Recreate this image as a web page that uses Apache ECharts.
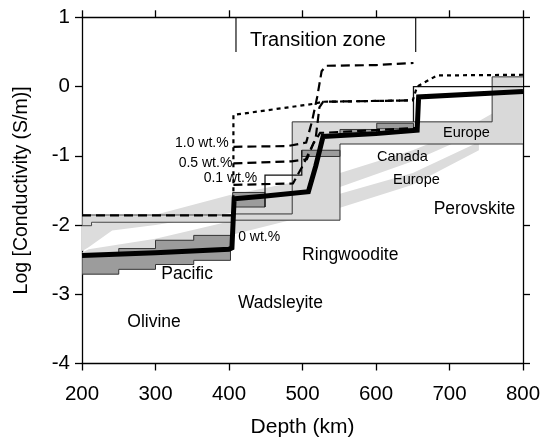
<!DOCTYPE html>
<html><head><meta charset="utf-8">
<script src="https://cdn.jsdelivr.net/npm/echarts@6/dist/echarts.min.js"></script>
<style>html,body{margin:0;padding:0;background:#fff}#c{width:541px;height:442px}</style>
</head><body><div id="c"></div>
<script>
// ---- data (depth km, log conductivity) ----
const xTicks = [200, 300, 400, 500, 600, 700, 800];
const yTicks = [-4, -3, -2, -1, 0, 1];

// water-content model profiles
const dry0 = [[200,-2.44],[300,-2.40],[400,-2.35],[404,-2.33],[407,-1.62],[450,-1.58],[508,-1.52],[518,-1.15],[528,-0.72],[600,-0.68],[656,-0.63],[658,-0.15],[800,-0.07]];
const olivineWet = [[200,-1.86],[406,-1.86]];
const wet01 = [[406,-1.42],[487,-1.40],[500,-1.15],[515,-0.82],[524,-0.67],[654,-0.60]];
const wet05 = [[406,-1.11],[485,-1.08],[506,-1.05],[518,-0.74],[523,-0.30],[528,-0.22],[647,-0.20]];
const wet10 = [[406,-0.87],[480,-0.86],[505,-0.81],[513,-0.50],[520,-0.15],[526,0.22],[532,0.30],[600,0.31],[651,0.34]];
const wetMax = [[406,-1.86],[406,-0.41],[515,-0.25],[528,-0.22],[650,-0.20],[656,0.0],[683,0.16],[800,0.17]];

// geophysical profiles
const stepProfileA = [[449,-1.74],[449,-1.28],[499,-1.28],[499,-0.92]];
const stepProfileB = [[651,-0.51],[651,0.0],[800,0.0]];
const olivineBox = [[200,-1.855],[405,-1.855],[405,-1.96],[213,-1.96],[213,-2.01],[200,-2.01]];
const tzBox = [[405,-1.52],[486,-1.52],[486,-0.51],[758,-0.51],[758,0.14],[800,0.14],[800,-0.83],[551,-0.83],[551,-1.93],[405,-1.93]];
const tzEdgeUpper = [[405,-1.84],[486,-1.84],[486,-0.51],[758,-0.51],[758,0.14],[800,0.14]];
const tzEdgeLower = [[405,-1.93],[551,-1.93],[551,-0.83],[800,-0.83]];
const pacific = [[200,-2.42],[250,-2.42],[250,-2.34],[300,-2.34],[300,-2.22],[352,-2.22],[352,-2.15],[402,-2.15],[402,-2.51],[352,-2.51],[352,-2.57],[300,-2.57],[300,-2.64],[250,-2.64],[250,-2.71],[200,-2.71]];
const pacificTZ1 = [[405,-1.53],[449,-1.53],[449,-1.74],[405,-1.74]];
const pacificTZ2 = [[499,-0.92],[551,-0.92],[551,-1.01],[499,-1.01]];
const pacificTZ3 = [[551,-0.62],[601,-0.62],[601,-0.70],[551,-0.70]];
const pacificTZ4 = [[601,-0.53],[651,-0.53],[651,-0.61],[601,-0.61]];
const canadaBand = [[200,-2.0],[300,-1.85],[400,-1.57],[551,-1.25],[650,-0.92],[720,-0.62],[760,-0.38],
                    [760,-0.5],[720,-0.75],[650,-1.08],[551,-1.45],[400,-1.83],[300,-2.0],[241,-2.08],[209,-2.32],[200,-2.38]];
const europeBand = [[200,-2.40],[209,-2.35],[300,-2.2],[400,-1.95],[551,-1.55],[650,-1.25],[740,-0.8],
                    [740,-0.92],[650,-1.42],[551,-1.75],[400,-2.15],[300,-2.38],[200,-2.50]];
const tzBracketL = [[409.5,1],[409.5,0.5]];
const tzBracketR = [[654,1],[654,0.5]];

// text annotations [text, depth, logσ]
const titleLabels = [['Transition zone',521,0.67]];
const phaseLabels = [['Olivine',298,-3.40],['Wadsleyite',470,-3.13],['Ringwoodite',565,-2.43],['Perovskite',734,-1.77],['Pacific',343,-2.71]];
const regionLabels = [['Europe',723,-0.67],['Canada',636,-1.02],['Europe',655,-1.35]];
const waterLabels = [['1.0 wt.%',363,-0.82],['0.5 wt.%',368,-1.10],['0.1 wt.%',402,-1.32],['0 wt.%',441,-2.17]];

// ---- chart ----
const FONT = '"Liberation Sans", Arial, Helvetica, sans-serif';
function poly(pts, fill, stroke, z) {
  return {type:'custom', coordinateSystem:'cartesian2d', z, silent:true, clip:true, animation:false,
    data:[pts[0]],
    renderItem:(params, api) => ({type:'polygon', shape:{points: pts.map(p => api.coord(p))},
      style:{fill, stroke: stroke || null, lineWidth: 1}})};
}
function line(pts, width, type, color, z) {
  return {type:'line', data:pts, symbol:'none', z, silent:true, animation:false, clip:true,
    lineStyle:{width, type, color, cap:'butt', join:'miter'}};
}
function labels(arr, size, z) {
  return {type:'scatter', symbolSize:0, z, silent:true, animation:false,
    itemStyle:{opacity:1},
    data: arr.map(a => ({name:a[0], value:[a[1], a[2]]})),
    label:{show:true, position:'inside', formatter:'{b}', fontSize:size, color:'#000', opacity:1,
      textBorderWidth:0, fontFamily:FONT}};
}
const axisCommon = {
  axisLine:{show:true, onZero:false, lineStyle:{color:'#000', width:1.3}},
  axisTick:{show:true, inside:false, length:7, lineStyle:{color:'#000', width:1.3}},
  splitLine:{show:false}
};
const chart = echarts.init(document.getElementById('c'), null, {renderer:'canvas'});
chart.setOption({
  animation:false,
  backgroundColor:'#fff',
  grid:{left:82, right:18, top:17.3, bottom:78.5, containLabel:false, outerBoundsMode:'none'},
  xAxis:[
    Object.assign({type:'value', position:'bottom', min:xTicks[0], max:xTicks[xTicks.length-1], interval:100,
      axisLabel:{fontSize:20.5, color:'#000', margin:20, fontFamily:FONT},
      name:'Depth (km)', nameLocation:'middle', nameGap:53, nameTextStyle:{fontSize:21, color:'#000', fontFamily:FONT}}, axisCommon),
    Object.assign({type:'value', position:'top', min:xTicks[0], max:xTicks[xTicks.length-1], interval:100,
      axisLabel:{show:false}}, axisCommon)
  ],
  yAxis:[
    Object.assign({type:'value', position:'left', min:yTicks[0], max:yTicks[yTicks.length-1], interval:1,
      axisLabel:{fontSize:20.5, color:'#000', margin:12, fontFamily:FONT},
      name:'Log [Conductivity (S/m)]', nameLocation:'middle', nameGap:50, nameRotate:90,
      nameTextStyle:{fontSize:19.5, color:'#000', fontFamily:FONT}}, axisCommon),
    Object.assign({type:'value', position:'right', min:yTicks[0], max:yTicks[yTicks.length-1], interval:1,
      axisLabel:{show:false}}, axisCommon)
  ],
  series:[
    poly(canadaBand, '#dcdcdc', null, 1),
    poly(europeBand, '#dcdcdc', null, 1),
    poly(olivineBox, '#d9d9d9', '#444', 2),
    poly(tzBox, '#d9d9d9', null, 2),
    line(tzEdgeUpper, 1, 'solid', '#333', 3),
    line(tzEdgeLower, 1, 'solid', '#333', 3),
    poly(pacific, '#9c9c9c', '#333', 3),
    poly(pacificTZ1, '#9c9c9c', '#333', 3),
    poly(pacificTZ2, '#9c9c9c', '#333', 3),
    poly(pacificTZ3, '#9c9c9c', '#333', 3),
    poly(pacificTZ4, '#9c9c9c', '#333', 3),
    line(stepProfileA, 1.3, 'solid', '#111', 4),
    line(stepProfileB, 1.3, 'solid', '#111', 4),
    line(tzBracketL, 1.2, 'solid', '#111', 4),
    line(tzBracketR, 1.2, 'solid', '#111', 4),
    line(olivineWet, 2.2, [9,5], '#000', 5),
    line(wetMax, 2.2, [4,4], '#000', 5),
    line(wet10, 2.2, [9,5], '#000', 5),
    line(wet05, 2.2, [9,5], '#000', 5),
    line(wet01, 2.2, [9,5], '#000', 5),
    line(dry0, 5, 'solid', '#000', 6),
    labels(titleLabels, 20, 7),
    labels(phaseLabels, 17.5, 7),
    labels(regionLabels, 14.5, 7),
    labels(waterLabels, 14, 7)
  ]
});
</script></body></html>
